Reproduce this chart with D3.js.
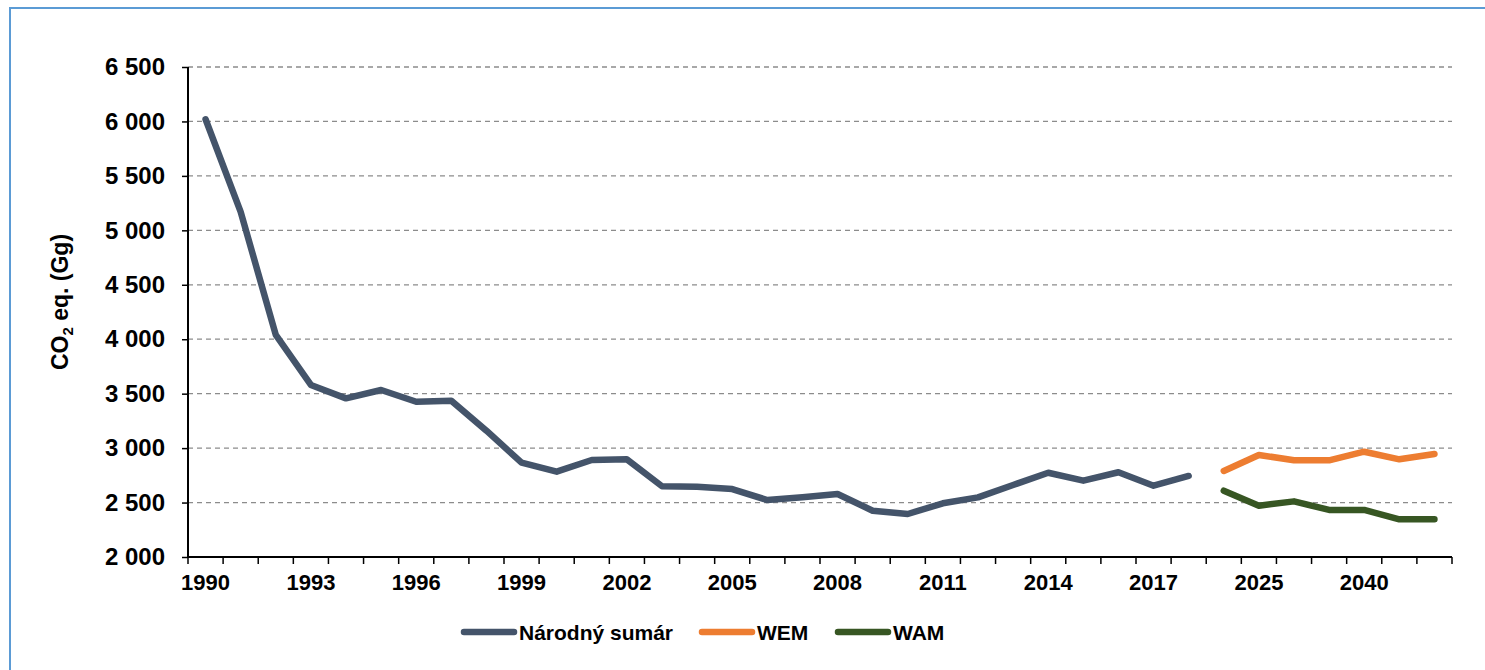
<!DOCTYPE html>
<html><head><meta charset="utf-8">
<script src="https://cdn.jsdelivr.net/npm/d3@7"></script>
<style>body{margin:0;background:#fff}svg{display:block;font-family:"Liberation Sans",Arial,sans-serif}</style>
</head><body><svg id="c" width="1485" height="670"></svg>
<script>
const categories = ["1990","1991","1992","1993","1994","1995","1996","1997","1998","1999","2000","2001","2002","2003","2004","2005","2006","2007","2008","2009","2010","2011","2012","2013","2014","2015","2016","2017","2018","2020","2025","2030","2035","2040","2045","2050"];
const tickLabels = ["1990","1993","1996","1999","2002","2005","2008","2011","2014","2017","2025","2040"];
const histYears = categories.slice(0,29);
const narodny = [6020,5170,4040,3580,3457,3534,3426,3435,3160,2866,2784,2891,2897,2650,2645,2624,2523,2548,2579,2425,2395,2493,2548,2661,2774,2701,2778,2655,2744];
const projYears = ["2020","2025","2030","2035","2040","2045","2050"];
const wem = [2790,2937,2888,2888,2967,2897,2946];
const wam = [2609,2471,2511,2432,2432,2346,2346];
const yTicks = [2000,2500,3000,3500,4000,4500,5000,5500,6000,6500];
const seriesNames = ["Národný sumár","WEM","WAM"];
const colors = ["#44546A","#ED7D31","#375623"];

const svg = d3.select("#c");
svg.append("rect").attr("x",10).attr("y",8).attr("width",1490).attr("height",680)
  .attr("fill","none").attr("stroke","#5B9BD5").attr("stroke-width",2);

const L=188, R=1452, T=67, B=557;
const x = d3.scaleBand().domain(categories).range([L,R]);
const y = d3.scaleLinear().domain([2000,6500]).range([B,T]);
const cx = c => x(c)+x.bandwidth()/2;
const loc = d3.formatLocale({decimal:",",thousands:" ",grouping:[3],currency:["",""]});
const fmt = loc.format(",");

// gridlines
svg.append("g").selectAll("line").data(yTicks.slice(1)).join("line")
  .attr("x1",L).attr("x2",R).attr("y1",d=>y(d)).attr("y2",d=>y(d))
  .attr("stroke","#8c8c8c").attr("stroke-width",1.3).attr("stroke-dasharray","5,4");

// y axis
const ya = svg.append("g").attr("transform",`translate(${L},0)`)
  .call(d3.axisLeft(y).tickValues(yTicks).tickSize(6).tickPadding(17).tickFormat(fmt));
ya.select(".domain").attr("stroke","#000").attr("stroke-width",2).attr("d",`M0,${T}V${B}`);
ya.selectAll(".tick line").attr("stroke","#000").attr("stroke-width",1.5);
ya.selectAll("text").attr("font-size",24).attr("font-weight","bold").attr("fill","#000")
  .attr("font-family","Liberation Sans, Arial, sans-serif");

// x axis
const xa = svg.append("g").attr("transform",`translate(0,${B})`)
  .call(d3.axisBottom(x).tickValues(tickLabels).tickSize(0).tickPadding(17));
xa.select(".domain").attr("stroke","#000").attr("stroke-width",2).attr("d",`M${L},0H${R}`);
xa.selectAll("text").attr("font-size",22).attr("font-weight","bold").attr("fill","#000")
  .attr("font-family","Liberation Sans, Arial, sans-serif");
const bounds = categories.map(c=>x(c)).concat([R]);
xa.selectAll(".bt").data(bounds).join("line").attr("class","bt")
  .attr("x1",d=>d).attr("x2",d=>d).attr("y1",0).attr("y2",7)
  .attr("stroke","#000").attr("stroke-width",1.5);

// y title
const yt = svg.append("text").attr("transform","translate(68,302) rotate(-90)")
  .attr("text-anchor","middle").attr("font-size",23).attr("font-weight","bold").attr("fill","#000");
yt.append("tspan").text("CO");
yt.append("tspan").text("2").attr("font-size",15).attr("dy",5);
yt.append("tspan").text(" eq. (Gg)").attr("dy",-5);

// lines
const line = d3.line().x(d=>cx(d[0])).y(d=>y(d[1]));
const data = [histYears.map((c,i)=>[c,narodny[i]]), projYears.map((c,i)=>[c,wem[i]]), projYears.map((c,i)=>[c,wam[i]])];
data.forEach((d,i)=>{
  svg.append("path").attr("d",line(d)).attr("fill","none").attr("stroke",colors[i])
    .attr("stroke-width",6.5).attr("stroke-linejoin","round").attr("stroke-linecap","round");
});

// legend
const legX = [464,702,838];
const lg = svg.append("g");
seriesNames.forEach((n,i)=>{
  lg.append("line").attr("x1",legX[i]).attr("x2",legX[i]+50).attr("y1",632).attr("y2",632)
    .attr("stroke",colors[i]).attr("stroke-width",6.5).attr("stroke-linecap","round");
  lg.append("text").attr("x",legX[i]+55).attr("y",632).attr("dy","0.36em")
    .attr("font-size",21).attr("font-weight","bold").attr("fill","#000").text(n);
});
</script></body></html>
